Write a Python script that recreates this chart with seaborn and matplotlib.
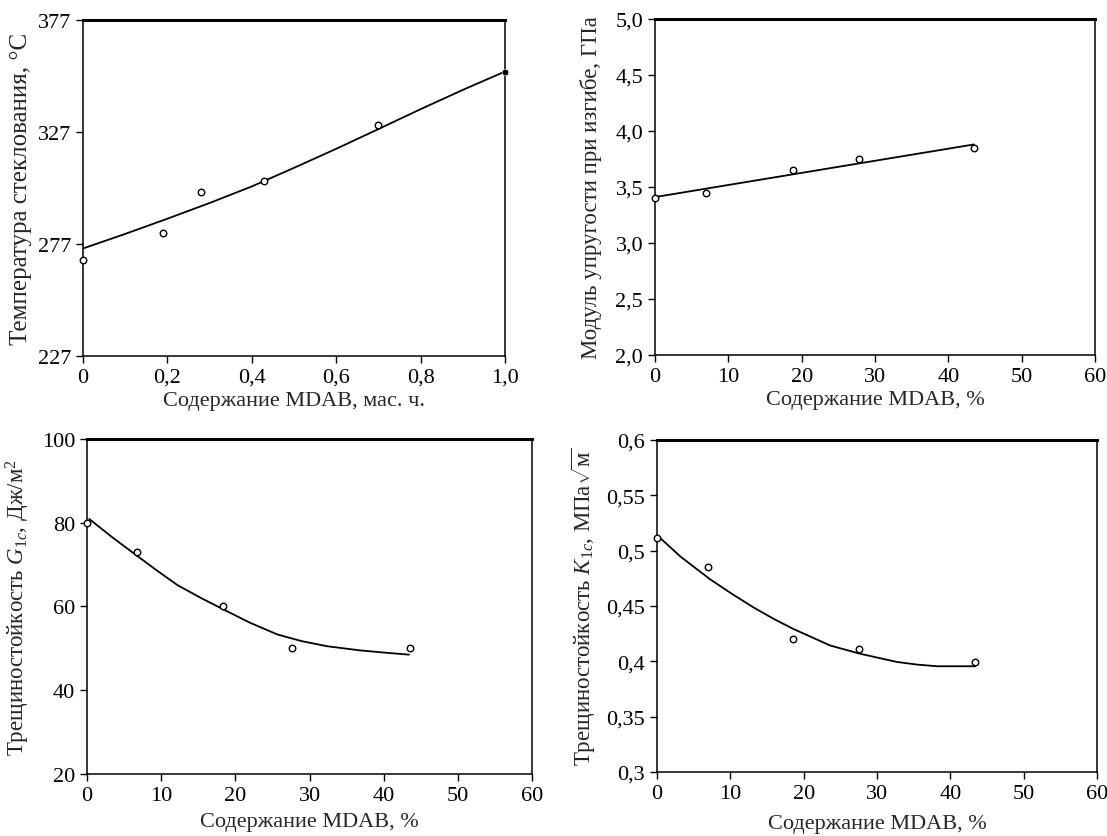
import matplotlib
matplotlib.use("Agg")
import matplotlib.pyplot as plt
import seaborn as sns

# -------------------------
# data
# -------------------------
tg_x = [0.0, 0.19, 0.28, 0.43, 0.70]
tg_y = [270, 282, 300, 305, 330]
tg_x_filled = [1.0]
tg_y_filled = [354]
tg_fit_x = [0.0, 0.1, 0.2, 0.3, 0.4, 0.5, 0.6, 0.7, 0.8, 0.9, 1.0]
tg_fit_y = [275, 281.5, 288.3, 295.3, 302.7, 311, 319.5, 328.3, 337.2, 345.8, 354]

e_x = [0.0, 7.0, 18.8, 27.8, 43.5]
e_y = [3.40, 3.45, 3.65, 3.75, 3.85]
e_fit_x = [0.0, 43.5]
e_fit_y = [3.41, 3.88]

g_x = [0.0, 6.8, 18.4, 27.6, 43.5]
g_y = [80, 73, 60, 50, 50]
g_fit_x = [0.3, 3.5, 6.6, 9.5, 12.2, 15.4, 18.5, 22.0, 25.7, 29.0, 32.4, 36.9, 40.0, 43.4]
g_fit_y = [80.9, 76.4, 72.3, 68.5, 65.1, 62.0, 59.2, 56.1, 53.3, 51.7, 50.5, 49.5, 49.0, 48.5]

k_x = [0.0, 7.0, 18.6, 27.6, 43.4]
k_y = [0.511, 0.485, 0.420, 0.411, 0.399]
k_fit_x = [0.0, 3.2, 7.3, 10.2, 13.2, 16.0, 18.6, 23.6, 27.7, 32.7, 35.5, 38.2, 43.4]
k_fit_y = [0.514, 0.4946, 0.4738, 0.461, 0.4485, 0.438, 0.4292, 0.4143, 0.4068,
           0.3994, 0.397, 0.3955, 0.3955]

sns.set_style("ticks")
plt.rcParams['font.family'] = ['Liberation Serif', 'DejaVu Serif']
plt.rcParams['mathtext.fontset'] = 'custom'
plt.rcParams['mathtext.rm'] = 'Liberation Serif'
plt.rcParams['mathtext.it'] = 'Liberation Serif:italic'

fig = plt.figure(figsize=(11.07, 8.37), dpi=100)

ax1 = fig.add_axes([0.075, 0.5735, 0.3812, 0.4014])
ax2 = fig.add_axes([0.5917, 0.5747, 0.3975, 0.4014])
ax3 = fig.add_axes([0.0786, 0.0741, 0.402, 0.4002])
ax4 = fig.add_axes([0.5935, 0.0765, 0.3975, 0.3967])


def draw(ax, x, y, fx, fy):
    sns.lineplot(x=fx, y=fy, ax=ax, color="black", lw=1.3, sort=False)
    sns.scatterplot(x=x, y=y, ax=ax, marker="o", s=22, facecolor="white",
                    edgecolor="black", linewidth=1.0, zorder=5, clip_on=False)


def style(ax, xlabel, ylabel, xlabelpad=3, ylabelpad=6, ysize=16.5):
    for side in ["left", "right", "bottom"]:
        ax.spines[side].set_linewidth(1.1)
        ax.spines[side].set_color("black")
    ax.spines["top"].set_linewidth(2.2)
    ax.spines["top"].set_color("black")
    ax.tick_params(axis="both", direction="out", length=5, width=1,
                   labelsize=16, colors="black")
    ax.set_xlabel(xlabel, fontsize=16, labelpad=xlabelpad)
    ax.set_ylabel(ylabel, fontsize=ysize, labelpad=ylabelpad)


# 1. glass transition
draw(ax1, tg_x, tg_y, tg_fit_x, tg_fit_y)
sns.scatterplot(x=tg_x_filled, y=tg_y_filled, ax=ax1, marker="o", s=22,
                color="black", zorder=6, clip_on=False)
ax1.set_xlim(0, 1.0)
ax1.set_ylim(227, 377)
ax1.set_xticks([0, 0.2, 0.4, 0.6, 0.8, 1.0])
ax1.set_xticklabels(["0", "0,2", "0,4", "0,6", "0,8", "1,0"])
ax1.set_yticks([227, 277, 327, 377])
style(ax1, "Содержание MDAB, мас. ч.", "Температура стеклования, °C",
      ylabelpad=4, ysize=18)

# 2. flexural modulus
draw(ax2, e_x, e_y, e_fit_x, e_fit_y)
ax2.set_xlim(0, 60)
ax2.set_ylim(2.0, 5.0)
ax2.set_xticks(range(0, 61, 10))
ax2.set_yticks([2.0, 2.5, 3.0, 3.5, 4.0, 4.5, 5.0])
ax2.set_yticklabels(["2,0", "2,5", "3,0", "3,5", "4,0", "4,5", "5,0"])
style(ax2, "Содержание MDAB, %", "Модуль упругости при изгибе, ГПа",
      ylabelpad=10)

# 3. G1c
draw(ax3, g_x, g_y, g_fit_x, g_fit_y)
ax3.set_xlim(0, 60)
ax3.set_ylim(20, 100)
ax3.set_xticks(range(0, 61, 10))
ax3.set_yticks([20, 40, 60, 80, 100])
style(ax3, "Содержание MDAB, %", "Трещиностойкость $G_{1c}$, Дж/м$^2$",
      xlabelpad=5, ylabelpad=7)

# 4. K1c
draw(ax4, k_x, k_y, k_fit_x, k_fit_y)
ax4.set_xlim(0, 60)
ax4.set_ylim(0.3, 0.6)
ax4.set_xticks(range(0, 61, 10))
ax4.set_yticks([0.3, 0.35, 0.4, 0.45, 0.5, 0.55, 0.6])
ax4.set_yticklabels(["0,3", "0,35", "0,4", "0,45", "0,5", "0,55", "0,6"])
style(ax4, "Содержание MDAB, %", "Трещиностойкость $K_{1c}$, МПа$\\sqrt{\\mathrm{м}}$",
      xlabelpad=8, ylabelpad=6)

fig.savefig("out.png", dpi=100)
